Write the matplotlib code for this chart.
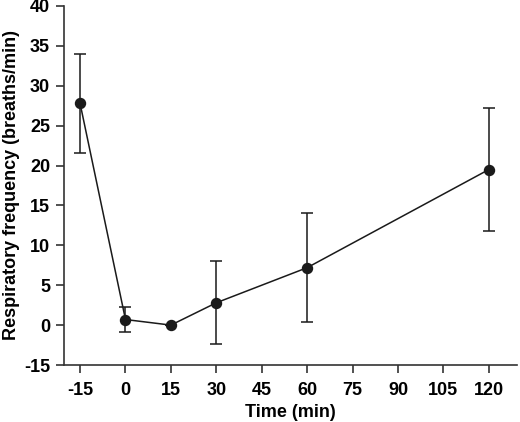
import numpy as np
import matplotlib.pyplot as plt

plt.rcParams['font.family'] = ['Liberation Sans', 'DejaVu Sans']
plt.rcParams['font.weight'] = 'bold'
plt.rcParams['axes.unicode_minus'] = False

time = [-15, 0, 15, 30, 60, 120]
freq = [27.8, 0.7, 0.0, 2.8, 7.2, 19.5]
err_low = [21.6, -0.9, 0.0, -2.35, 0.4, 11.8]
err_high = [34.0, 2.3, 0.0, 8.0, 14.0, 27.2]

xticks = [-15, 0, 15, 30, 45, 60, 75, 90, 105, 120]
# broken y axis: bottom tick is labelled -15 but sits one step below 0
yticks = [-5, 0, 5, 10, 15, 20, 25, 30, 35, 40]
ytick_labels = ['-15', '0', '5', '10', '15', '20', '25', '30', '35', '40']

fig = plt.figure(figsize=(5.2, 4.22), dpi=100)
ax = fig.add_axes([64 / 520, 57 / 422, 453 / 520, 359 / 422])

freq = np.array(freq)
yerr = [freq - np.array(err_low), np.array(err_high) - freq]
ax.errorbar(time, freq, yerr=yerr, color='#1a1a1a', lw=1.1, elinewidth=1.1,
            capsize=4.5, capthick=1.1, marker='o', ms=7.2, zorder=3)

ax.set_xlim(-20.3, 129.3)
ax.set_ylim(-5, 40)
ax.set_xticks(xticks)
ax.set_yticks(yticks)
ax.set_yticklabels(ytick_labels)

for s in ['top', 'right']:
    ax.spines[s].set_visible(False)
for s in ['left', 'bottom']:
    ax.spines[s].set_color('#333333')
    ax.spines[s].set_linewidth(1.2)

ax.tick_params(axis='both', length=6, width=1.2, color='#333333',
               labelsize=13, pad=4)
ax.tick_params(axis='x', pad=6)
for lbl in ax.get_xticklabels() + ax.get_yticklabels():
    lbl.set_fontweight('bold')

ax.set_xlabel('Time (min)', fontsize=13, fontweight='bold', labelpad=4)
ax.set_ylabel('Respiratory frequency (breaths/min)', fontsize=13,
              fontweight='bold', labelpad=3)

fig.savefig('out.png', dpi=100)
